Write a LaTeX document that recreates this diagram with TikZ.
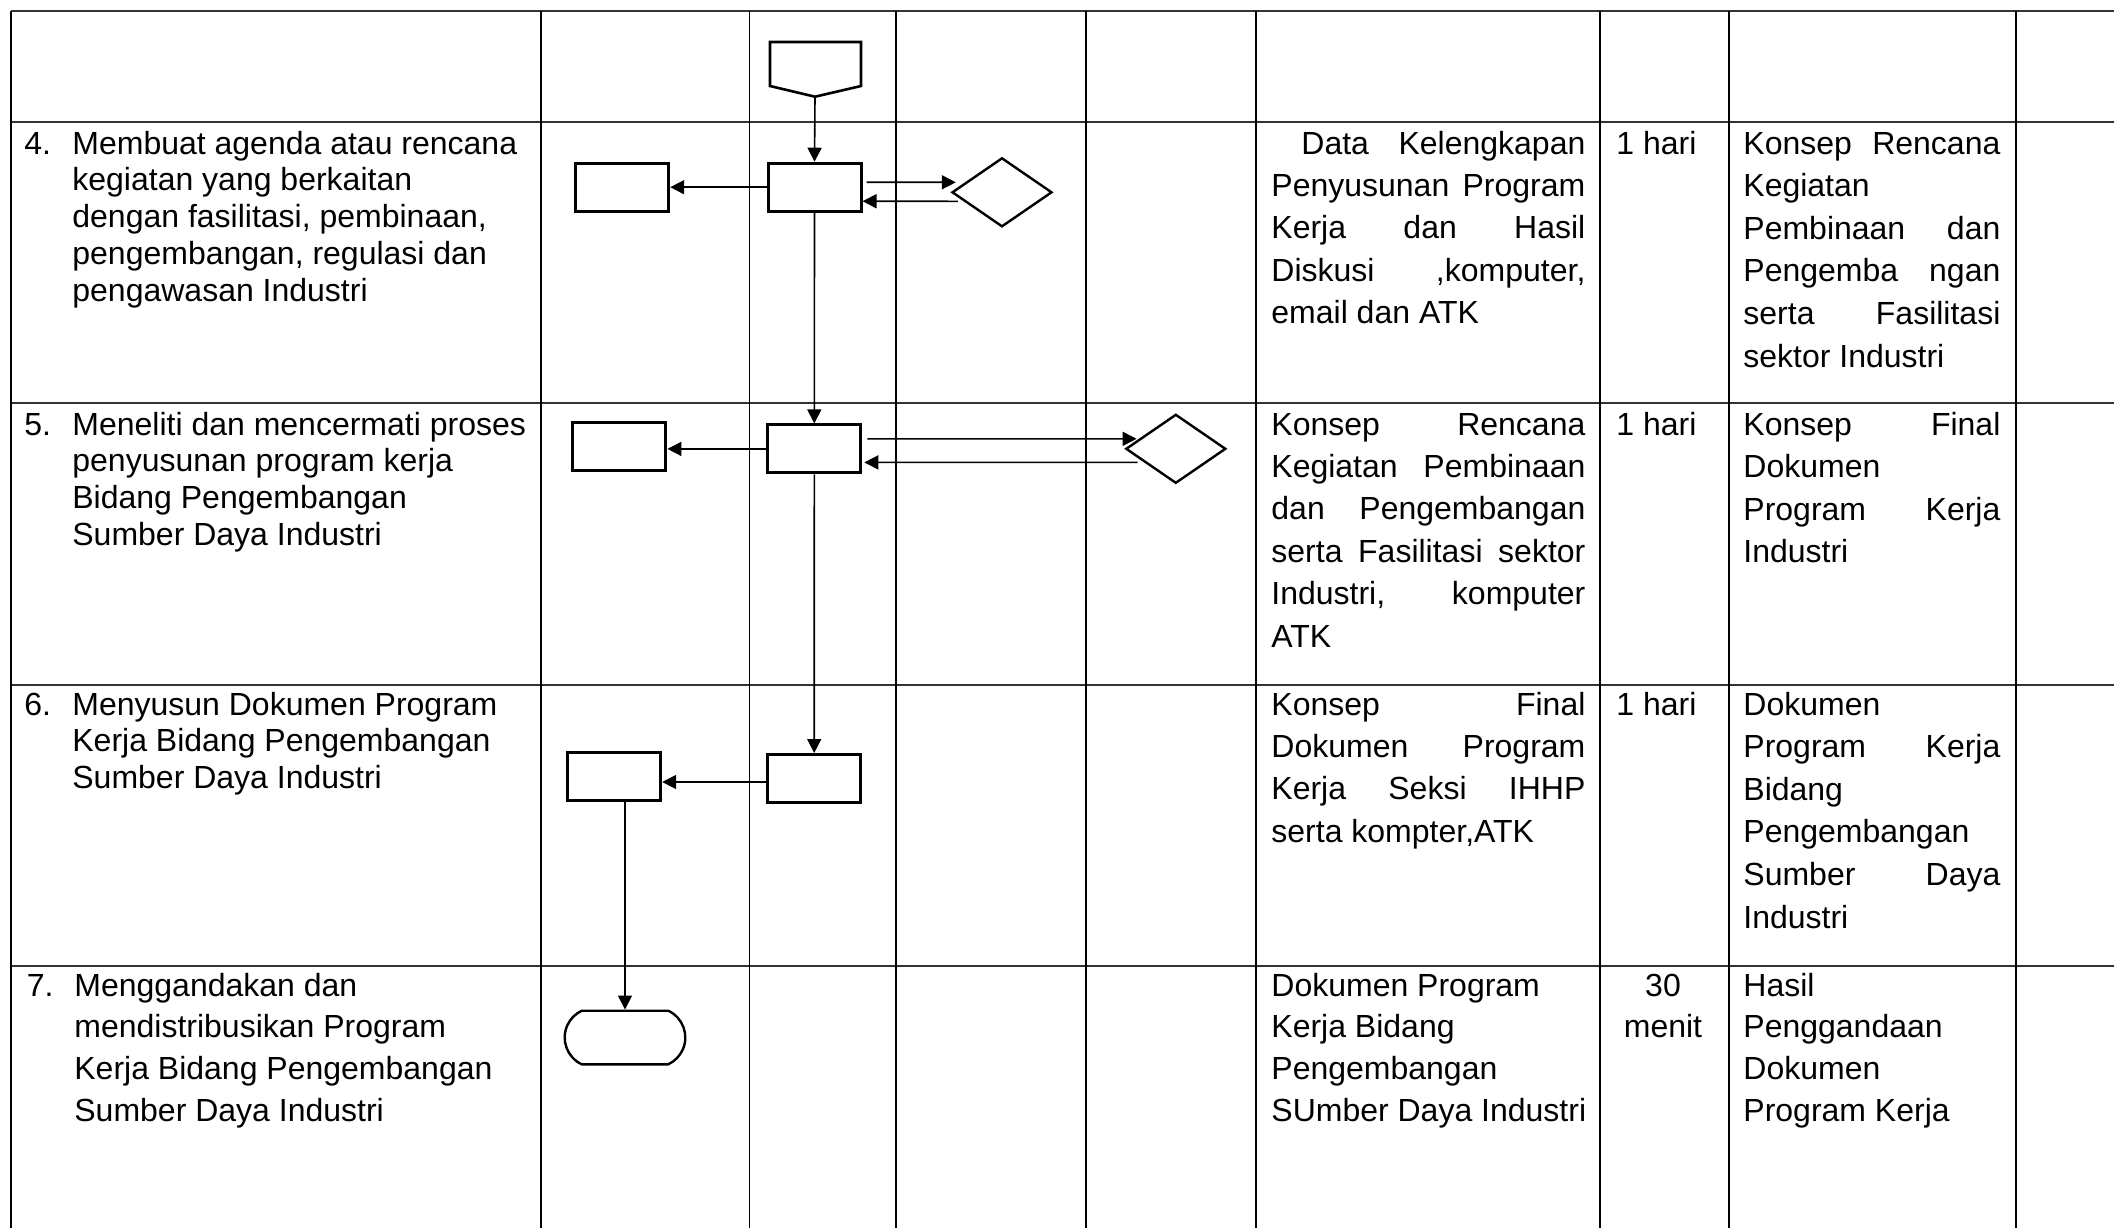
\documentclass[tikz,border=0pt]{standalone}
\usepackage{fontspec}
\setmainfont{Liberation Sans}
\usetikzlibrary{arrows.meta,shapes.geometric,shapes.misc,calc}

\newcommand\justline[1]{\makebox[\linewidth][s]{#1}}
\newcommand\celltxt[3]{\parbox[t]{#1}{\fontsize{16pt}{#2}\selectfont\raggedright #3}}

\tikzset{
  gridline/.style={line width=0.85pt},
  rowline/.style={line width=1pt, draw=black!80},
  procbox/.style={draw, fill=white, line width=1.5pt, minimum width=46.5pt, minimum height=24pt, inner sep=0pt},
  decis/.style={diamond, draw, fill=white, line width=1.2pt, minimum width=50pt, minimum height=34.5pt, inner sep=0pt},
  termi/.style={rounded rectangle, rounded rectangle arc length=130, draw, fill=white, line width=1.2pt, minimum width=60.3pt, minimum height=26.8pt, inner sep=0pt},
  offpage/.style={draw, fill=white, line width=1.3pt},
  arr/.style={line width=0.8pt, -{Triangle[length=7pt,width=7pt]}},
  txt/.style={anchor=base west, inner sep=0pt, font=\fontsize{16pt}{18.4pt}\selectfont},
}

\begin{document}
\begin{tikzpicture}[x=0.5pt,y=-0.5pt]
\useasboundingbox (0,0) rectangle (2114,1228);
\fill[white] (0,0) rectangle (2114,1228);

% ---- table grid ----
\foreach \yy in {11,122,403.3,685,966}
  \draw[rowline] (11,\yy) -- (2114,\yy);
\foreach \xx in {11,541,749.5,896,1086,1256,1600,1729,2016}
  \draw[gridline] (\xx,11) -- (\xx,1228);

% ---- flow shapes ----
\draw[offpage] (770,42) -- (861,42) -- (861,86) -- (815,96.7) -- (770,86) -- cycle;
\coordinate (opc) at (815,96.7);

\node[procbox] (b4) at (814.5,187.2) {};
\node[procbox] (l4) at (622.2,187.2) {};
\node[decis]   (d4) at (1002,192.3) {};

\node[procbox] (b5) at (814.3,448.9) {};
\node[procbox] (l5) at (619.4,446.7) {};
\node[decis]   (d5) at (1175.8,448.8) {};

\node[procbox] (b6) at (814.2,778.5) {};
\node[procbox] (l6) at (614.2,776.3) {};

\node[termi]   (t7) at (625,1037.5) {};

% ---- connectors ----
\draw[arr] (opc) -- (b4.north);
\draw[arr] (b4.west) -- (b4.west -| l4.east);
\draw[arr] ([shift={(4,-5)}]b4.east) -- ([shift={(5,-10)}]d4.west);
\draw[arr] ([shift={(7,9)}]d4.west) -- ([shift={(0,14)}]b4.east);
\draw[arr] (b4.south) -- (b5.north);

\draw[arr] (b5.west) -- (b5.west -| l5.east);
\draw[arr] ([shift={(5,-10)}]b5.east) -- ([shift={(12,-10)}]d5.west);
\draw[arr] ([shift={(13,13.5)}]d5.west) -- ([shift={(2,13.5)}]b5.east);
\draw[arr] (b5.south) -- (b6.north);

\draw[arr] ([shift={(0,3.5)}]b6.west) -- ([shift={(0,5.7)}]l6.east);
\draw[arr] (t7.north |- l6.south) -- (t7.north);

% ---- row 4 ----
\node[txt] (n4) at (24,154) {4.};
\node[txt] (s4) at (72,154) {\celltxt{240pt}{18.4pt}{Membuat agenda atau rencana\\kegiatan yang berkaitan\\dengan fasilitasi, pembinaan,\\pengembangan, regulasi dan\\pengawasan Industri}};
\node[txt] (i4) at (1271,154) {\celltxt{157pt}{21.2pt}{\justline{\hspace*{15pt}Data Kelengkapan}\\\justline{Penyusunan Program}\\\justline{Kerja dan Hasil}\\\justline{Diskusi ,komputer,}\\email dan ATK}};
\node[txt] (w4) at (1616,154) {1 hari};
\node[txt] (o4) at (1743,154) {\celltxt{128.5pt}{21.3pt}{\justline{Konsep Rencana}\\Kegiatan\\\justline{Pembinaan dan}\\\justline{Pengemba ngan}\\\justline{serta Fasilitasi}\\sektor Industri}};

% ---- row 5 ----
\node[txt] (n5) at (24,435) {5.};
\node[txt] (s5) at (72,435) {\celltxt{240pt}{18.4pt}{Meneliti dan mencermati proses\\penyusunan program kerja\\Bidang Pengembangan\\Sumber Daya Industri}};
\node[txt] (i5) at (1271,435) {\celltxt{157pt}{21.2pt}{\justline{Konsep Rencana}\\\justline{Kegiatan Pembinaan}\\\justline{dan Pengembangan}\\\justline{serta Fasilitasi sektor}\\\justline{Industri, komputer}\\ATK}};
\node[txt] (w5) at (1616,435) {1 hari};
\node[txt] (o5) at (1743,435) {\celltxt{128.5pt}{21.3pt}{\justline{Konsep Final}\\Dokumen\\\justline{Program Kerja}\\Industri}};

% ---- row 6 ----
\node[txt] (n6) at (24,715) {6.};
\node[txt] (s6) at (72,715) {\celltxt{240pt}{18.4pt}{Menyusun Dokumen Program\\Kerja Bidang Pengembangan\\Sumber Daya Industri}};
\node[txt] (i6) at (1271,715) {\celltxt{157pt}{21.2pt}{\justline{Konsep Final}\\\justline{Dokumen Program}\\\justline{Kerja Seksi IHHP}\\serta kompter,ATK}};
\node[txt] (w6) at (1616,715) {1 hari};
\node[txt] (o6) at (1743,715) {\celltxt{128.5pt}{21.3pt}{Dokumen\\\justline{Program Kerja}\\Bidang\\Pengembangan\\\justline{Sumber Daya}\\Industri}};

% ---- row 7 ----
\node[txt] (n7) at (26.5,996) {7.};
\node[txt] (s7) at (74,996) {\celltxt{240pt}{20.85pt}{Menggandakan dan\\mendistribusikan Program\\Kerja Bidang Pengembangan\\Sumber Daya Industri}};
\node[txt] (i7) at (1271,996) {\celltxt{170pt}{20.85pt}{Dokumen Program\\Kerja Bidang\\Pengembangan\\SUmber Daya Industri}};
\node[txt, anchor=base] (w7) at (1663,996) {\parbox[t]{60pt}{\fontsize{16pt}{20.85pt}\selectfont\centering 30\\menit}};
\node[txt] (o7) at (1743,996) {\celltxt{128.5pt}{20.85pt}{Hasil\\Penggandaan\\Dokumen\\Program Kerja}};
\end{tikzpicture}
\end{document}
